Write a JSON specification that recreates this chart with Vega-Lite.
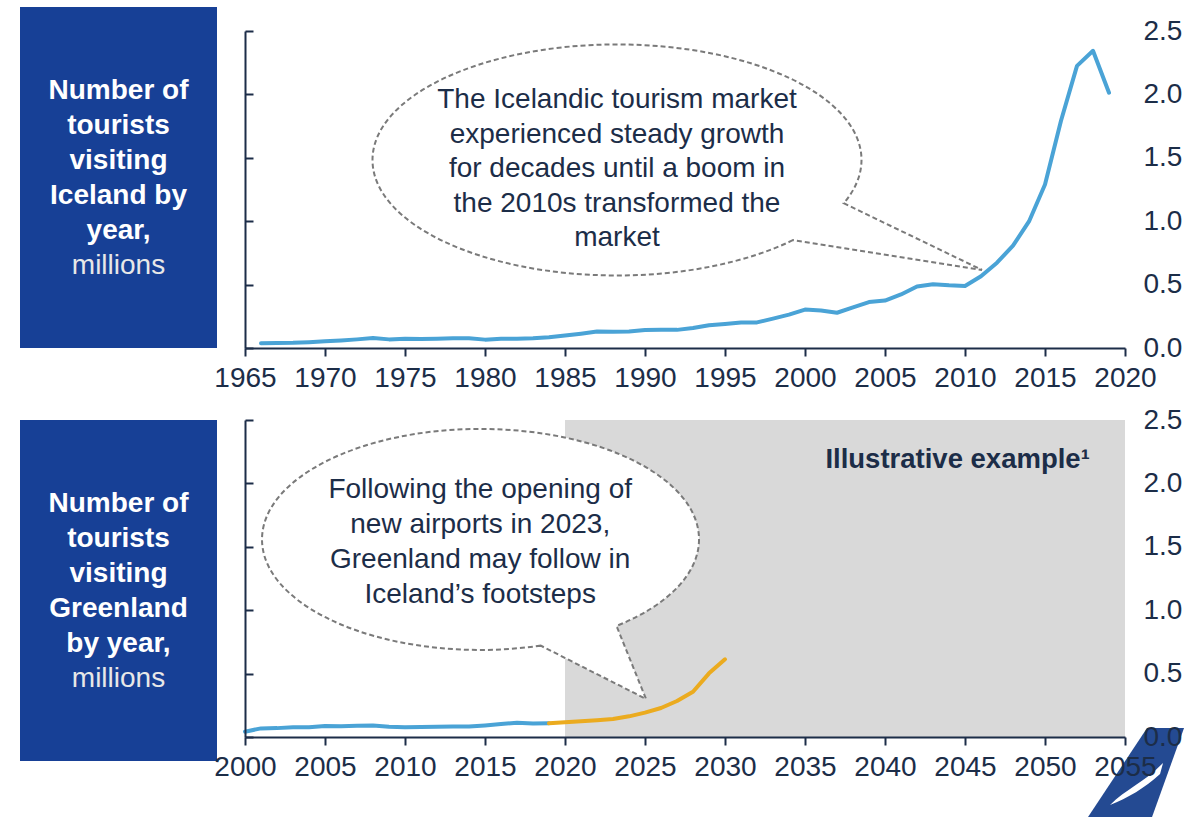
{
  "$schema": "https://vega.github.io/schema/vega-lite/v6.json",
  "padding": {"left": 20, "top": 7, "right": 0, "bottom": 0},
  "background": "#ffffff",
  "columns": 2,
  "spacing": {"row": 72, "column": 28},
  "bounds": "flush",
  "config": {
    "view": {"stroke": null},
    "font": "Liberation Sans",
    "axis": {
      "grid": false,
      "labelFont": "Liberation Sans",
      "labelFontSize": 28,
      "labelColor": "#1c2d48",
      "domainColor": "#1c2d48",
      "tickColor": "#1c2d48",
      "domainWidth": 2,
      "tickWidth": 2
    }
  },
  "datasets": {
    "iceland": [
      {"year": 1966, "value": 0.037}, {"year": 1967, "value": 0.039}, {"year": 1968, "value": 0.041},
      {"year": 1969, "value": 0.046}, {"year": 1970, "value": 0.053}, {"year": 1971, "value": 0.060},
      {"year": 1972, "value": 0.068}, {"year": 1973, "value": 0.078}, {"year": 1974, "value": 0.068},
      {"year": 1975, "value": 0.072}, {"year": 1976, "value": 0.071}, {"year": 1977, "value": 0.073},
      {"year": 1978, "value": 0.076}, {"year": 1979, "value": 0.077}, {"year": 1980, "value": 0.066},
      {"year": 1981, "value": 0.072}, {"year": 1982, "value": 0.073}, {"year": 1983, "value": 0.077},
      {"year": 1984, "value": 0.085}, {"year": 1985, "value": 0.098}, {"year": 1986, "value": 0.113},
      {"year": 1987, "value": 0.130}, {"year": 1988, "value": 0.129}, {"year": 1989, "value": 0.131},
      {"year": 1990, "value": 0.142}, {"year": 1991, "value": 0.144}, {"year": 1992, "value": 0.143},
      {"year": 1993, "value": 0.157}, {"year": 1994, "value": 0.179}, {"year": 1995, "value": 0.190},
      {"year": 1996, "value": 0.201}, {"year": 1997, "value": 0.202}, {"year": 1998, "value": 0.232},
      {"year": 1999, "value": 0.263}, {"year": 2000, "value": 0.303}, {"year": 2001, "value": 0.296},
      {"year": 2002, "value": 0.278}, {"year": 2003, "value": 0.320}, {"year": 2004, "value": 0.362},
      {"year": 2005, "value": 0.374}, {"year": 2006, "value": 0.422}, {"year": 2007, "value": 0.485},
      {"year": 2008, "value": 0.502}, {"year": 2009, "value": 0.494}, {"year": 2010, "value": 0.489},
      {"year": 2011, "value": 0.566}, {"year": 2012, "value": 0.673}, {"year": 2013, "value": 0.807},
      {"year": 2014, "value": 0.998}, {"year": 2015, "value": 1.289}, {"year": 2016, "value": 1.792},
      {"year": 2017, "value": 2.225}, {"year": 2018, "value": 2.344}, {"year": 2019, "value": 2.013}
    ],
    "greenland": [
      {"year": 2000, "value": 0.042, "series": "Historic"}, {"year": 2001, "value": 0.068, "series": "Historic"},
      {"year": 2002, "value": 0.070, "series": "Historic"}, {"year": 2003, "value": 0.076, "series": "Historic"},
      {"year": 2004, "value": 0.077, "series": "Historic"}, {"year": 2005, "value": 0.086, "series": "Historic"},
      {"year": 2006, "value": 0.084, "series": "Historic"}, {"year": 2007, "value": 0.088, "series": "Historic"},
      {"year": 2008, "value": 0.090, "series": "Historic"}, {"year": 2009, "value": 0.080, "series": "Historic"},
      {"year": 2010, "value": 0.077, "series": "Historic"}, {"year": 2011, "value": 0.078, "series": "Historic"},
      {"year": 2012, "value": 0.081, "series": "Historic"}, {"year": 2013, "value": 0.083, "series": "Historic"},
      {"year": 2014, "value": 0.082, "series": "Historic"}, {"year": 2015, "value": 0.091, "series": "Historic"},
      {"year": 2016, "value": 0.102, "series": "Historic"}, {"year": 2017, "value": 0.112, "series": "Historic"},
      {"year": 2018, "value": 0.106, "series": "Historic"}, {"year": 2019, "value": 0.108, "series": "Historic"},
      {"year": 2019, "value": 0.108, "series": "Illustrative"}, {"year": 2020, "value": 0.116, "series": "Illustrative"},
      {"year": 2021, "value": 0.124, "series": "Illustrative"}, {"year": 2022, "value": 0.132, "series": "Illustrative"},
      {"year": 2023, "value": 0.142, "series": "Illustrative"}, {"year": 2024, "value": 0.163, "series": "Illustrative"},
      {"year": 2025, "value": 0.192, "series": "Illustrative"}, {"year": 2026, "value": 0.229, "series": "Illustrative"},
      {"year": 2027, "value": 0.284, "series": "Illustrative"}, {"year": 2028, "value": 0.357, "series": "Illustrative"},
      {"year": 2029, "value": 0.502, "series": "Illustrative"}, {"year": 2030, "value": 0.613, "series": "Illustrative"}
    ],
    "box1": [
      {"row": 1, "line": "Number of", "bold": true},
      {"row": 2, "line": "tourists", "bold": true},
      {"row": 3, "line": "visiting", "bold": true},
      {"row": 4, "line": "Iceland by", "bold": true},
      {"row": 5, "line": "year,", "bold": true},
      {"row": 6, "line": "millions", "bold": false}
    ],
    "box2": [
      {"row": 1, "line": "Number of", "bold": true},
      {"row": 2, "line": "tourists", "bold": true},
      {"row": 3, "line": "visiting", "bold": true},
      {"row": 4, "line": "Greenland", "bold": true},
      {"row": 5, "line": "by year,", "bold": true},
      {"row": 6, "line": "millions", "bold": false}
    ]
  },
  "concat": [
    {
      "width": 197,
      "height": 341,
      "view": {"fill": "#174096", "stroke": null},
      "data": {"name": "box1"},
      "layer": [
        {
          "transform": [{"filter": "datum.bold"}],
          "mark": {"type": "text", "fontWeight": "bold", "fontSize": 28, "color": "#ffffff", "align": "center", "baseline": "middle"},
          "encoding": {
            "y": {"field": "row", "type": "quantitative", "scale": {"domain": [-1.4, 8.343], "reverse": true, "nice": false, "zero": false}, "axis": null},
            "text": {"field": "line"}
          }
        },
        {
          "transform": [{"filter": "!datum.bold"}],
          "mark": {"type": "text", "fontWeight": "normal", "fontSize": 28, "color": "#e8e8e8", "align": "center", "baseline": "middle"},
          "encoding": {
            "y": {"field": "row", "type": "quantitative", "scale": {"domain": [-1.4, 8.343], "reverse": true, "nice": false, "zero": false}, "axis": null},
            "text": {"field": "line"}
          }
        }
      ]
    },
    {
      "width": 880,
      "height": 341,
      "resolve": {"axis": {"y": "independent"}},
      "layer": [
        {
          "data": {"name": "iceland"},
          "mark": {"type": "line", "color": "#4aa3d6", "strokeWidth": 4, "strokeJoin": "round", "strokeCap": "round"},
          "encoding": {
            "x": {
              "field": "year", "type": "quantitative",
              "scale": {"domain": [1965, 2020], "nice": false, "zero": false},
              "axis": {"values": [1965, 1970, 1975, 1980, 1985, 1990, 1995, 2000, 2005, 2010, 2015, 2020], "format": "d", "tickSize": 8, "labelPadding": 8, "title": null, "labelFlush": false, "labelOverlap": false, "zindex": 1}
            },
            "y": {
              "field": "value", "type": "quantitative",
              "scale": {"domain": [0, 2.5], "range": [341, 24], "nice": false},
              "axis": {"orient": "left", "values": [0, 0.5, 1, 1.5, 2, 2.5], "labels": false, "tickSize": -8, "title": null, "zindex": 1}
            }
          }
        },
        {
          "data": {"values": [{}]},
          "mark": {
            "type": "point",
            "shape": "M 1.759 0.802 C 1.298 1.027 0.663 1.155 0 1.155 C -1.35 1.155 -2.445 0.638 -2.445 0 C -2.445 -0.638 -1.35 -1.155 0 -1.155 C 1.35 -1.155 2.445 -0.638 2.445 0 C 2.445 0.148 2.385 0.295 2.267 0.433 L 3.65 1.1 Z",
            "size": 40000, "fill": "#ffffff", "stroke": "#7a7a7a", "strokeWidth": 2, "strokeDash": [5, 3], "opacity": 1, "fillOpacity": 1, "strokeOpacity": 1
          },
          "encoding": {
            "x": {"datum": 1988.25, "type": "quantitative"},
            "y": {"datum": 1.483, "type": "quantitative", "axis": null}
          }
        },
        {
          "data": {"values": [{}]},
          "mark": {
            "type": "text",
            "text": ["The Icelandic tourism market", "experienced steady growth", "for decades until a boom in", "the 2010s transformed the", "market"],
            "fontSize": 28, "lineHeight": 34.6, "color": "#1c2d48", "align": "center", "baseline": "middle"
          },
          "encoding": {
            "x": {"datum": 1988.25, "type": "quantitative"},
            "y": {
              "datum": 1.956, "type": "quantitative",
              "axis": {"orient": "right", "values": [0, 0.5, 1, 1.5, 2, 2.5], "format": ".1f", "domain": false, "ticks": false, "tickSize": 0, "labelPadding": 18, "title": null, "labelFlush": false, "zindex": 1}
            }
          }
        }
      ]
    },
    {
      "width": 197,
      "height": 341,
      "view": {"fill": "#174096", "stroke": null},
      "data": {"name": "box2"},
      "layer": [
        {
          "transform": [{"filter": "datum.bold"}],
          "mark": {"type": "text", "fontWeight": "bold", "fontSize": 28, "color": "#ffffff", "align": "center", "baseline": "middle"},
          "encoding": {
            "y": {"field": "row", "type": "quantitative", "scale": {"domain": [-1.4, 8.343], "reverse": true, "nice": false, "zero": false}, "axis": null},
            "text": {"field": "line"}
          }
        },
        {
          "transform": [{"filter": "!datum.bold"}],
          "mark": {"type": "text", "fontWeight": "normal", "fontSize": 28, "color": "#e8e8e8", "align": "center", "baseline": "middle"},
          "encoding": {
            "y": {"field": "row", "type": "quantitative", "scale": {"domain": [-1.4, 8.343], "reverse": true, "nice": false, "zero": false}, "axis": null},
            "text": {"field": "line"}
          }
        }
      ]
    },
    {
      "width": 880,
      "height": 317,
      "resolve": {"axis": {"y": "independent"}},
      "layer": [
        {
          "data": {"values": [{}]},
          "mark": {"type": "rect", "color": "#d9d9d9"},
          "encoding": {
            "x": {"datum": 2020, "type": "quantitative", "scale": {"domain": [2000, 2055], "nice": false, "zero": false}},
            "x2": {"datum": 2055},
            "y": {"datum": 0, "type": "quantitative", "scale": {"domain": [0, 2.5], "nice": false}, "axis": null},
            "y2": {"datum": 2.5}
          }
        },
        {
          "data": {"name": "greenland"},
          "mark": {"type": "line", "strokeWidth": 4, "strokeJoin": "round", "strokeCap": "round"},
          "encoding": {
            "x": {
              "field": "year", "type": "quantitative",
              "axis": {"values": [2000, 2005, 2010, 2015, 2020, 2025, 2030, 2035, 2040, 2045, 2050, 2055], "format": "d", "tickSize": 8, "labelPadding": 8, "title": null, "labelFlush": false, "labelOverlap": false, "zindex": 1}
            },
            "y": {
              "field": "value", "type": "quantitative",
              "axis": {"orient": "left", "values": [0, 0.5, 1, 1.5, 2, 2.5], "labels": false, "tickSize": -8, "title": null, "zindex": 1}
            },
            "color": {"field": "series", "type": "nominal", "scale": {"domain": ["Historic", "Illustrative"], "range": ["#4aa3d6", "#ebab1f"]}, "legend": null}
          }
        },
        {
          "data": {"values": [{}]},
          "mark": {
            "type": "point",
            "shape": "M 0.602 1.062 C 0.406 1.09 0.204 1.105 0 1.105 C -1.207 1.105 -2.185 0.61 -2.185 0 C -2.185 -0.61 -1.207 -1.105 0 -1.105 C 1.207 -1.105 2.185 -0.61 2.185 0 C 2.185 0.337 1.881 0.655 1.36 0.865 L 1.655 1.595 Z",
            "size": 40000, "fill": "#ffffff", "stroke": "#7a7a7a", "strokeWidth": 2, "strokeDash": [5, 3], "opacity": 1, "fillOpacity": 1, "strokeOpacity": 1
          },
          "encoding": {
            "x": {"datum": 2014.72, "type": "quantitative"},
            "y": {"datum": 1.558, "type": "quantitative", "axis": null}
          }
        },
        {
          "data": {"values": [{}]},
          "mark": {
            "type": "text",
            "text": ["Following the opening of", "new airports in 2023,", "Greenland may follow in", "Iceland’s footsteps"],
            "fontSize": 28, "lineHeight": 35, "color": "#1c2d48", "align": "center", "baseline": "middle"
          },
          "encoding": {
            "x": {"datum": 2014.7, "type": "quantitative"},
            "y": {
              "datum": 1.948, "type": "quantitative",
              "axis": {"orient": "right", "values": [0, 0.5, 1, 1.5, 2, 2.5], "format": ".1f", "domain": false, "ticks": false, "tickSize": 0, "labelPadding": 18, "title": null, "labelFlush": false, "zindex": 1}
            }
          }
        },
        {
          "data": {"values": [{}]},
          "mark": {"type": "text", "text": "Illustrative example¹", "fontSize": 27.5, "fontWeight": "bold", "color": "#1c2d48", "align": "right", "baseline": "middle"},
          "encoding": {
            "x": {"datum": 2052.8, "type": "quantitative"},
            "y": {"datum": 2.185, "type": "quantitative", "axis": null}
          }
        },
        {
          "data": {"values": [{}]},
          "mark": {
            "type": "point",
            "shape": "M 0.14 -0.88 L 0.88 -0.88 L 0.24 0.9 L -1.04 0.9 Z",
            "size": 10000, "fill": "#244a92", "strokeWidth": 0, "opacity": 1, "fillOpacity": 1
          },
          "encoding": {
            "x": {"datum": 2055.94, "type": "quantitative"},
            "y": {"datum": -0.276, "type": "quantitative", "axis": null}
          }
        },
        {
          "data": {"values": [{}]},
          "mark": {
            "type": "point",
            "shape": "M -0.6 0.66 C -0.3 0.35 0.1 0.2 0.46 -0.18 L 0.4 0.04 C 0.1 0.32 -0.25 0.52 -0.6 0.66 Z",
            "size": 10000, "fill": "#ffffff", "strokeWidth": 0, "opacity": 1, "fillOpacity": 1
          },
          "encoding": {
            "x": {"datum": 2055.94, "type": "quantitative"},
            "y": {"datum": -0.276, "type": "quantitative", "axis": null}
          }
        }
      ]
    }
  ]
}
